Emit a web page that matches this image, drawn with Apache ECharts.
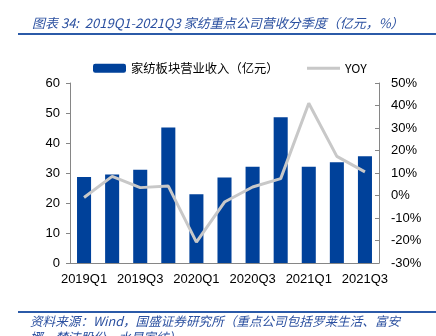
<!DOCTYPE html>
<html><head><meta charset="utf-8">
<script src="https://cdn.jsdelivr.net/npm/echarts@6/dist/echarts.min.js"></script>
<style>html,body{margin:0;padding:0;background:#fff;}#c{width:436px;height:336px;}</style>
</head><body><div id="c"></div>
<script>
const categories = ['2019Q1','2019Q2','2019Q3','2019Q4','2020Q1','2020Q2','2020Q3','2020Q4','2021Q1','2021Q2','2021Q3'];
const revenue = [28.7, 29.5, 31.1, 45.2, 22.9, 28.5, 32.1, 48.6, 32.1, 33.6, 35.6];
const yoy = [-0.9, 8.5, 3.5, 4.2, -20.7, -2.9, 3.8, 7.5, 41.0, 17.4, 10.5];
const leftTicks = [0, 60, 10];
const rightTicks = [-30, 50, 10];
const titleText = '图表 34:  2019Q1-2021Q3 家纺重点公司营收分季度（亿元，%）';
const sourceText = '资料来源：Wind，国盛证券研究所（重点公司包括罗莱生活、富安\n娜、梦洁股份、水星家纺）';
const seriesNames = ['家纺板块营业收入（亿元）', 'YOY'];

const chart = echarts.init(document.getElementById('c'), null, {renderer: 'canvas'});
const lab = {color: '#000', fontSize: 13, fontFamily: 'Liberation Sans'};
const legendText = {color: '#000', fontSize: 12.3, fontFamily: 'Noto Sans CJK SC'};
chart.setOption({
  animation: false,
  backgroundColor: '#fff',
  title: {
    text: titleText, left: 27, top: 12,
    textStyle: {color: '#2b50a0', fontSize: 13, fontStyle: 'italic', fontWeight: 'normal', fontFamily: 'Noto Sans CJK SC'}
  },
  graphic: [
    {type: 'rect', shape: {x: 18, y: 33, width: 418, height: 2}, style: {fill: '#2b5aa8'}},
    {type: 'rect', shape: {x: 18, y: 311, width: 418, height: 2}, style: {fill: '#2b5aa8'}},
    {type: 'text', left: 30, top: 313, style: {text: sourceText, fill: '#2b50a0', font: 'italic 12.6px "Noto Sans CJK SC"', lineHeight: 16}}
  ],
  legend: [
    {left: 88, top: 57, itemWidth: 33, itemHeight: 9, textStyle: legendText, data: [seriesNames[0]]},
    {left: 302, top: 57, itemWidth: 33, itemHeight: 9, textStyle: legendText, data: [{name: seriesNames[1], icon: 'path://M0,3H33V6H0Z M0,0H0.01V9H0Z'}]}
  ],
  grid: {left: 70, right: 57, top: 83, bottom: 73},
  xAxis: {
    type: 'category', data: categories, boundaryGap: true,
    axisLine: {lineStyle: {color: '#868686', width: 1}},
    axisTick: {inside: true, length: 4, lineStyle: {color: '#868686'}},
    axisLabel: Object.assign({interval: 1, margin: 10}, lab)
  },
  yAxis: [
    {type: 'value', min: leftTicks[0], max: leftTicks[1], interval: leftTicks[2],
     axisLine: {show: true, lineStyle: {color: '#868686'}},
     axisTick: {show: true, length: 4, lineStyle: {color: '#868686'}},
     splitLine: {show: false},
     axisLabel: Object.assign({margin: 10}, lab)},
    {type: 'value', min: rightTicks[0], max: rightTicks[1], interval: rightTicks[2],
     axisLine: {show: true, lineStyle: {color: '#868686'}},
     axisTick: {show: true, inside: true, length: 4, lineStyle: {color: '#868686'}},
     splitLine: {show: false},
     axisLabel: Object.assign({margin: 12, formatter: '{value}%'}, lab)}
  ],
  series: [
    {name: seriesNames[0], type: 'bar', data: revenue, barWidth: '50%', itemStyle: {color: '#00419a'}},
    {name: seriesNames[1], type: 'line', yAxisIndex: 1, data: yoy, symbol: 'none',
     lineStyle: {color: '#c8c8c8', width: 3}, itemStyle: {color: '#c8c8c8'}}
  ]
});
</script></body></html>
